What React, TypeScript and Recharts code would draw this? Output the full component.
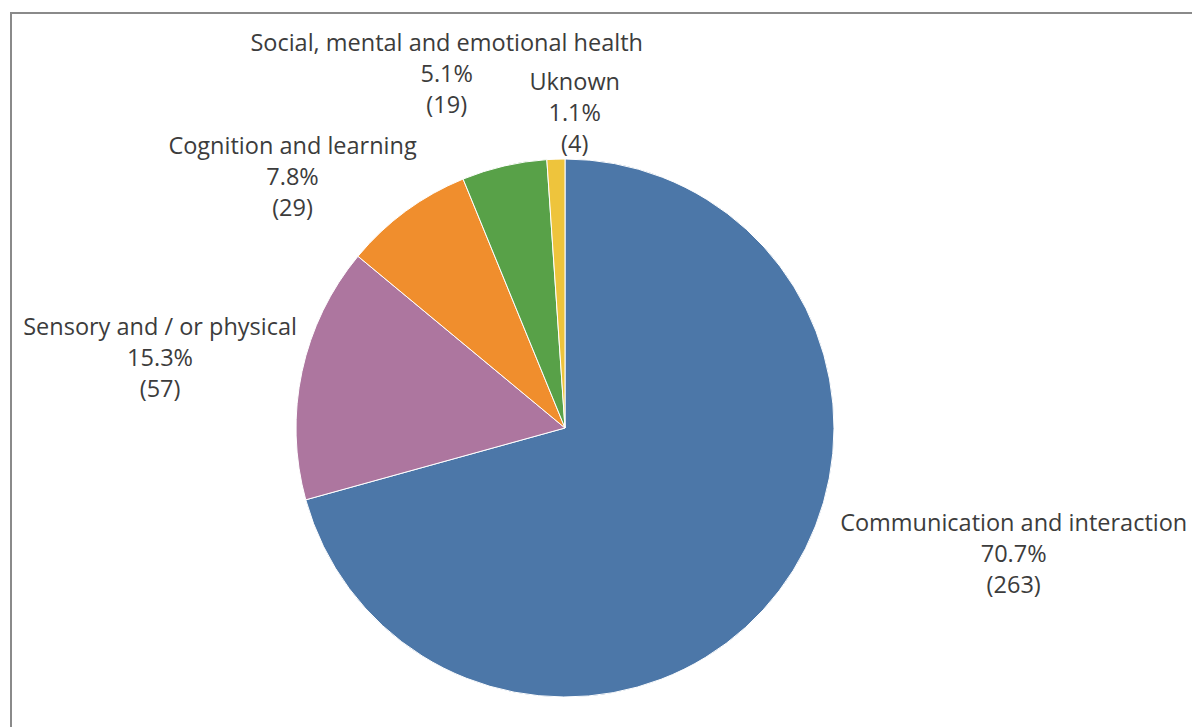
import { Cell, Pie, PieChart } from "recharts";

// primary need categories, clockwise from 12 o'clock
const categories = [
  "Communication and interaction",
  "Sensory and / or physical",
  "Cognition and learning",
  "Social, mental and emotional health",
  "Uknown",
];
const counts = [263, 57, 29, 19, 4];
const colors = ["#4c77a8", "#ad769f", "#f08e2d", "#58a148", "#eec43c"];
// label nudges relative to the radial anchor point (dx, dy)
const labelNudge: [number, number][] = [
  [159, -95],
  [-49, 5],
  [-57, 41],
  [-36, 0],
  [22, 48],
];

const total = counts.reduce((a, b) => a + b, 0);
const data = categories.map((name, i) => ({ name, value: counts[i] }));

const RADIAN = Math.PI / 180;
const LINE = 31;

function renderLabel(props: any) {
  const { cx, cy, midAngle, outerRadius, index, value, name } = props;
  const r = outerRadius + 95;
  const [dx, dy] = labelNudge[index];
  const x = cx + r * Math.cos(-midAngle * RADIAN) + dx;
  const y = cy + r * Math.sin(-midAngle * RADIAN) + dy;
  const pct = ((value / total) * 100).toFixed(1) + "%";
  return (
    <text
      x={x}
      y={y - LINE}
      textAnchor="middle"
      dominantBaseline="central"
      fill="#3c3c3c"
      fontSize={23.5}
      fontFamily="'Open Sans', sans-serif"
    >
      <tspan x={x} dy={0}>{name}</tspan>
      <tspan x={x} dy={LINE}>{pct}</tspan>
      <tspan x={x} dy={LINE}>({value})</tspan>
    </text>
  );
}

export default function App() {
  return (
    <div
      style={{
        position: "absolute",
        left: 10,
        top: 12,
        width: 1182,
        height: 715,
        boxSizing: "border-box",
        borderTop: "2px solid #8a8a8a",
        borderLeft: "2px solid #8a8a8a",
        background: "#fff",
        overflow: "hidden",
      }}
    >
      <PieChart width={1180} height={713}>
        <Pie
          data={data}
          dataKey="value"
          nameKey="name"
          cx={548}
          cy={409}
          outerRadius={269}
          startAngle={90}
          endAngle={-270}
          stroke="#ffffff"
          strokeWidth={1}
          label={renderLabel}
          labelLine={false}
          isAnimationActive={false}
        >
          {data.map((d, i) => (
            <Cell key={d.name} fill={colors[i]} />
          ))}
        </Pie>
      </PieChart>
    </div>
  );
}
